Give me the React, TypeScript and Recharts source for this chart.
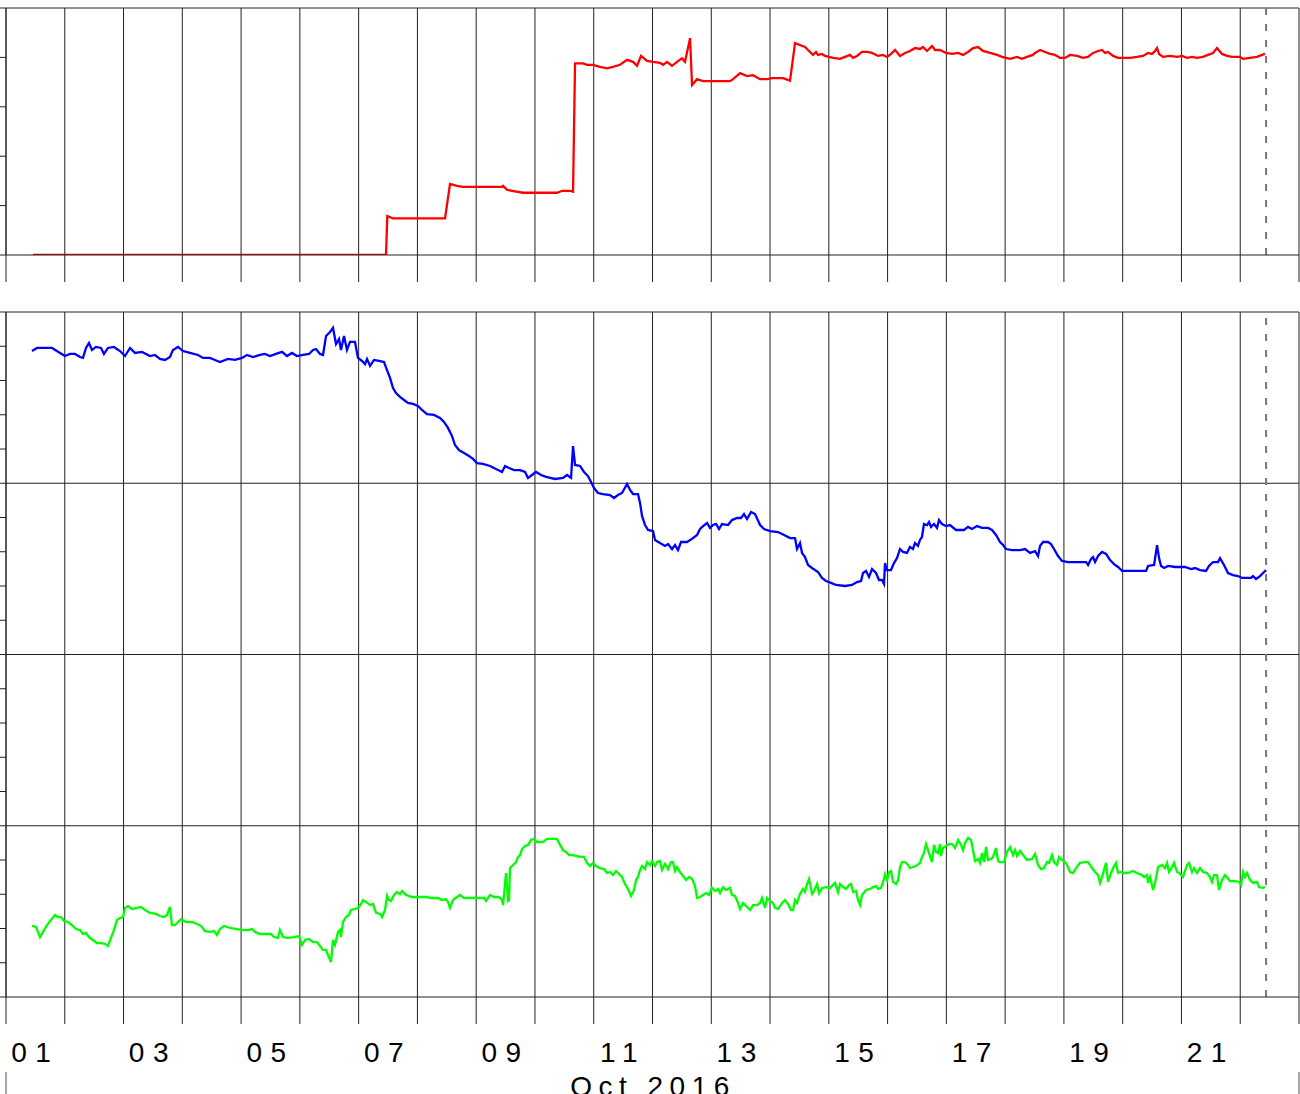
import { LineChart, Line, XAxis, YAxis, CartesianGrid, ReferenceLine } from "recharts";

// time axis: days since 2016-10-01 00:00
const dayTicks = [0, 1, 2, 3, 4, 5, 6, 7, 8, 9, 10, 11, 12, 13, 14, 15, 16, 17, 18, 19, 20, 21, 22];
const dayLabelTicks = [0.5, 2.5, 4.5, 6.5, 8.5, 10.5, 12.5, 14.5, 16.5, 18.5, 20.5];
const dayLabels = ["01", "03", "05", "07", "09", "11", "13", "15", "17", "19", "21"];
const monthTicks = [0, 22];
const monthLabel = "Oct 2016";
const nowMarker = 21.44;

const topTicks = [0, 1, 2, 3, 4, 5];
const bottomTicks = [0, 0.2, 0.4, 0.6, 0.8, 1, 1.2, 1.4, 1.6, 1.8, 2, 2.2, 2.4, 2.6, 2.8, 3, 3.2, 3.4, 3.6, 3.8, 4];
const bottomMajor = [1, 2, 3, 4];

const red: [number, number][] = [
  [0.459, 0], [6.466, 0], [6.488, 0.79], [6.586, 0.74], [7.47, 0.74], [7.555, 1.44], [7.674, 1.4], [7.777, 1.38],
  [8.44, 1.38], [8.457, 1.4], [8.525, 1.32], [8.61, 1.3], [8.797, 1.26], [9.376, 1.26], [9.461, 1.3], [9.597, 1.3],
  [9.648, 1.28], [9.682, 3.88], [9.818, 3.88], [9.886, 3.85], [9.988, 3.85], [10.107, 3.81], [10.226, 3.78],
  [10.328, 3.81], [10.448, 3.85], [10.567, 3.95], [10.669, 3.91], [10.737, 3.83], [10.805, 4.03], [10.907, 3.93],
  [11.009, 3.91], [11.128, 3.89], [11.179, 3.85], [11.247, 3.91], [11.332, 3.83], [11.417, 3.91], [11.502, 3.98],
  [11.553, 3.91], [11.639, 4.39], [11.673, 3.44], [11.758, 3.56], [11.86, 3.52], [12.32, 3.52], [12.371, 3.56],
  [12.49, 3.68], [12.609, 3.62], [12.711, 3.64], [12.83, 3.56], [12.949, 3.56], [13.034, 3.58], [13.221, 3.58],
  [13.34, 3.53], [13.425, 4.29], [13.51, 4.25], [13.595, 4.21], [13.68, 4.11], [13.731, 4.05], [13.782, 4.11],
  [13.816, 4.05], [13.884, 4.07], [13.935, 4.03], [14.004, 4.01], [14.072, 3.99], [14.191, 3.97], [14.276, 4.01],
  [14.361, 4.05], [14.412, 3.99], [14.48, 4.03], [14.565, 4.11], [14.65, 4.11], [14.735, 4.09], [14.837, 4.03],
  [14.922, 4.05], [14.99, 4.01], [15.059, 4.07], [15.127, 4.15], [15.212, 4.03], [15.297, 4.09], [15.382, 4.13],
  [15.467, 4.19], [15.552, 4.17], [15.603, 4.21], [15.671, 4.13], [15.756, 4.23], [15.807, 4.15], [15.892, 4.15],
  [15.995, 4.09], [16.097, 4.07], [16.199, 4.09], [16.284, 4.05], [16.369, 4.11], [16.454, 4.19], [16.539, 4.21],
  [16.624, 4.13], [16.744, 4.09], [16.863, 4.05], [16.948, 4.01], [17.015, 3.99], [17.083, 3.97], [17.202, 4.01],
  [17.287, 3.97], [17.372, 4.01], [17.474, 4.05], [17.509, 4.09], [17.594, 4.15], [17.679, 4.11], [17.764, 4.07],
  [17.849, 4.05], [17.934, 3.99], [18.019, 3.99], [18.104, 4.05], [18.223, 4.03], [18.325, 3.99], [18.41, 4.01],
  [18.496, 4.09], [18.581, 4.13], [18.649, 4.15], [18.7, 4.09], [18.751, 4.11], [18.836, 4.03], [18.921, 3.99],
  [19.006, 3.99], [19.125, 3.99], [19.244, 4.01], [19.346, 4.03], [19.431, 4.09], [19.499, 4.07], [19.55, 4.13],
  [19.585, 4.19], [19.619, 4.07], [19.687, 4.01], [19.806, 4.03], [19.925, 4.01], [20.01, 4.03], [20.095, 3.99],
  [20.18, 4.01], [20.265, 3.99], [20.367, 4.01], [20.452, 4.05], [20.537, 4.09], [20.605, 4.19], [20.69, 4.07],
  [20.775, 4.03], [20.86, 4.01], [20.997, 4.01], [21.048, 3.97], [21.167, 3.99], [21.286, 4.01], [21.371, 4.05],
  [21.422, 4.07],
];

const blue: [number, number][] = [
  [0.442, 3.772], [0.528, 3.79], [0.783, 3.79], [0.919, 3.761], [1.004, 3.743], [1.089, 3.755], [1.174, 3.755],
  [1.259, 3.737], [1.31, 3.732], [1.361, 3.79], [1.412, 3.819], [1.463, 3.778], [1.531, 3.796], [1.616, 3.79],
  [1.667, 3.755], [1.735, 3.79], [1.837, 3.796], [1.94, 3.772], [2.025, 3.743], [2.11, 3.79], [2.195, 3.761],
  [2.314, 3.767], [2.45, 3.743], [2.535, 3.749], [2.62, 3.726], [2.705, 3.72], [2.79, 3.737], [2.841, 3.778],
  [2.927, 3.796], [3.012, 3.772], [3.131, 3.761], [3.267, 3.749], [3.352, 3.732], [3.471, 3.732], [3.556, 3.72],
  [3.641, 3.708], [3.777, 3.726], [3.896, 3.72], [4.015, 3.732], [4.1, 3.749], [4.202, 3.737], [4.321, 3.749],
  [4.406, 3.755], [4.491, 3.743], [4.593, 3.755], [4.696, 3.767], [4.781, 3.743], [4.866, 3.761], [4.951, 3.743],
  [5.054, 3.749], [5.156, 3.755], [5.224, 3.778], [5.275, 3.784], [5.343, 3.755], [5.394, 3.749], [5.445, 3.86],
  [5.513, 3.883], [5.564, 3.907], [5.615, 3.813], [5.666, 3.842], [5.7, 3.778], [5.751, 3.86], [5.802, 3.778],
  [5.853, 3.825], [5.938, 3.825], [5.989, 3.732], [6.058, 3.714], [6.109, 3.696], [6.143, 3.726], [6.194, 3.685],
  [6.262, 3.72], [6.347, 3.714], [6.432, 3.708], [6.483, 3.661], [6.534, 3.615], [6.585, 3.556], [6.636, 3.527],
  [6.704, 3.504], [6.772, 3.486], [6.84, 3.469], [6.925, 3.463], [7.01, 3.451], [7.078, 3.428], [7.163, 3.404],
  [7.282, 3.399], [7.384, 3.381], [7.452, 3.358], [7.52, 3.323], [7.588, 3.276], [7.639, 3.223], [7.707, 3.194],
  [7.793, 3.177], [7.878, 3.159], [7.946, 3.142], [8.014, 3.118], [8.116, 3.113], [8.236, 3.101], [8.338, 3.083],
  [8.44, 3.066], [8.491, 3.101], [8.559, 3.089], [8.644, 3.077], [8.746, 3.077], [8.831, 3.066], [8.882, 3.031],
  [8.95, 3.048], [9.018, 3.066], [9.104, 3.048], [9.189, 3.037], [9.342, 3.025], [9.478, 3.031], [9.546, 3.048],
  [9.614, 3.031], [9.648, 3.217], [9.682, 3.107], [9.767, 3.101], [9.835, 3.066], [9.903, 3.042], [9.954, 3.007],
  [10.005, 2.972], [10.073, 2.943], [10.158, 2.937], [10.277, 2.931], [10.345, 2.914], [10.413, 2.931],
  [10.481, 2.943], [10.567, 2.996], [10.618, 2.961], [10.669, 2.937], [10.754, 2.937], [10.788, 2.885],
  [10.822, 2.809], [10.873, 2.756], [10.924, 2.727], [11.009, 2.721], [11.043, 2.669], [11.128, 2.651],
  [11.213, 2.634], [11.264, 2.645], [11.332, 2.616], [11.383, 2.639], [11.434, 2.61], [11.485, 2.657],
  [11.587, 2.657], [11.672, 2.675], [11.758, 2.698], [11.809, 2.733], [11.86, 2.75], [11.928, 2.768],
  [11.979, 2.739], [12.03, 2.756], [12.081, 2.762], [12.132, 2.733], [12.183, 2.762], [12.285, 2.756],
  [12.353, 2.785], [12.438, 2.797], [12.506, 2.797], [12.557, 2.82], [12.609, 2.791], [12.677, 2.832],
  [12.745, 2.82], [12.83, 2.756], [12.898, 2.733], [13.0, 2.721], [13.136, 2.715], [13.238, 2.698], [13.34, 2.68],
  [13.425, 2.68], [13.459, 2.616], [13.51, 2.651], [13.544, 2.593], [13.595, 2.569], [13.646, 2.523],
  [13.714, 2.505], [13.816, 2.482], [13.884, 2.447], [13.952, 2.429], [14.037, 2.418], [14.123, 2.406],
  [14.276, 2.4], [14.395, 2.406], [14.48, 2.423], [14.548, 2.429], [14.582, 2.476], [14.633, 2.488],
  [14.684, 2.453], [14.735, 2.499], [14.803, 2.476], [14.854, 2.435], [14.905, 2.435], [14.939, 2.412],
  [14.956, 2.534], [14.99, 2.493], [15.058, 2.493], [15.109, 2.534], [15.16, 2.563], [15.211, 2.616],
  [15.262, 2.599], [15.33, 2.593], [15.381, 2.628], [15.432, 2.616], [15.466, 2.651], [15.517, 2.634],
  [15.551, 2.669], [15.585, 2.686], [15.619, 2.762], [15.671, 2.756], [15.705, 2.774], [15.739, 2.745],
  [15.79, 2.762], [15.841, 2.739], [15.875, 2.785], [15.926, 2.762], [15.994, 2.75], [16.062, 2.756],
  [16.164, 2.727], [16.3, 2.727], [16.368, 2.745], [16.436, 2.733], [16.521, 2.75], [16.606, 2.739],
  [16.709, 2.739], [16.777, 2.727], [16.845, 2.698], [16.913, 2.657], [16.964, 2.639], [17.015, 2.616],
  [17.117, 2.61], [17.254, 2.61], [17.339, 2.616], [17.424, 2.593], [17.509, 2.604], [17.56, 2.575],
  [17.594, 2.634], [17.645, 2.657], [17.73, 2.657], [17.781, 2.645], [17.832, 2.616], [17.9, 2.575],
  [17.968, 2.546], [18.071, 2.54], [18.241, 2.54], [18.377, 2.54], [18.411, 2.523], [18.462, 2.558],
  [18.496, 2.569], [18.53, 2.54], [18.581, 2.575], [18.649, 2.599], [18.717, 2.587], [18.785, 2.552],
  [18.853, 2.528], [18.921, 2.511], [18.99, 2.488], [19.126, 2.488], [19.296, 2.488], [19.398, 2.488],
  [19.432, 2.517], [19.534, 2.523], [19.585, 2.639], [19.619, 2.563], [19.653, 2.517], [19.704, 2.505],
  [19.772, 2.517], [19.891, 2.511], [20.061, 2.511], [20.163, 2.499], [20.231, 2.505], [20.316, 2.493],
  [20.418, 2.488], [20.469, 2.517], [20.537, 2.54], [20.622, 2.54], [20.656, 2.563], [20.724, 2.523],
  [20.792, 2.476], [20.877, 2.464], [20.962, 2.458], [21.031, 2.447], [21.116, 2.447], [21.184, 2.447],
  [21.218, 2.458], [21.269, 2.441], [21.337, 2.458], [21.388, 2.476], [21.44, 2.493],
];

const green: [number, number][] = [
  [0.442, 0.415], [0.511, 0.409], [0.579, 0.35], [0.63, 0.38], [0.698, 0.42], [0.766, 0.45], [0.834, 0.479],
  [0.885, 0.467], [0.936, 0.467], [0.987, 0.444], [1.055, 0.438], [1.123, 0.42], [1.191, 0.397], [1.259, 0.391],
  [1.31, 0.368], [1.361, 0.374], [1.412, 0.35], [1.48, 0.333], [1.548, 0.315], [1.616, 0.315], [1.684, 0.31],
  [1.735, 0.298], [1.786, 0.345], [1.837, 0.391], [1.888, 0.45], [1.94, 0.461], [1.991, 0.467], [2.025, 0.52],
  [2.076, 0.531], [2.144, 0.514], [2.229, 0.52], [2.297, 0.526], [2.365, 0.508], [2.45, 0.491], [2.552, 0.485],
  [2.62, 0.473], [2.688, 0.467], [2.739, 0.479], [2.79, 0.526], [2.824, 0.42], [2.875, 0.42], [2.927, 0.438],
  [2.978, 0.455], [3.063, 0.438], [3.165, 0.438], [3.25, 0.426], [3.318, 0.415], [3.386, 0.385], [3.471, 0.38],
  [3.539, 0.385], [3.59, 0.362], [3.641, 0.397], [3.709, 0.415], [3.811, 0.403], [3.93, 0.397], [4.032, 0.391],
  [4.117, 0.391], [4.185, 0.397], [4.236, 0.38], [4.321, 0.368], [4.44, 0.368], [4.508, 0.368], [4.559, 0.35],
  [4.627, 0.345], [4.661, 0.391], [4.712, 0.35], [4.798, 0.345], [4.9, 0.35], [4.985, 0.356], [5.036, 0.304],
  [5.087, 0.333], [5.156, 0.339], [5.224, 0.321], [5.292, 0.321], [5.343, 0.298], [5.394, 0.275], [5.445, 0.275],
  [5.479, 0.245], [5.53, 0.204], [5.564, 0.333], [5.598, 0.304], [5.649, 0.38], [5.683, 0.391], [5.7, 0.35],
  [5.734, 0.438], [5.785, 0.467], [5.836, 0.479], [5.87, 0.508], [5.938, 0.514], [5.989, 0.52], [6.04, 0.543],
  [6.075, 0.566], [6.126, 0.555], [6.194, 0.537], [6.245, 0.543], [6.296, 0.491], [6.364, 0.485], [6.398, 0.467],
  [6.449, 0.508], [6.483, 0.59], [6.517, 0.566], [6.551, 0.561], [6.602, 0.596], [6.653, 0.613], [6.704, 0.601],
  [6.738, 0.619], [6.806, 0.596], [6.908, 0.584], [7.044, 0.584], [7.163, 0.584], [7.214, 0.578], [7.35, 0.578],
  [7.418, 0.566], [7.486, 0.572], [7.52, 0.555], [7.554, 0.52], [7.605, 0.566], [7.673, 0.584], [7.724, 0.596],
  [7.793, 0.578], [7.929, 0.578], [8.065, 0.578], [8.133, 0.578], [8.167, 0.561], [8.201, 0.578], [8.235, 0.596],
  [8.303, 0.584], [8.388, 0.584], [8.44, 0.566], [8.457, 0.537], [8.508, 0.724], [8.542, 0.561], [8.559, 0.566],
  [8.576, 0.753], [8.627, 0.771], [8.678, 0.788], [8.712, 0.818], [8.746, 0.829], [8.78, 0.864], [8.831, 0.882],
  [8.882, 0.888], [8.933, 0.917], [8.984, 0.923], [9.035, 0.905], [9.137, 0.905], [9.206, 0.923], [9.291, 0.923],
  [9.376, 0.923], [9.427, 0.888], [9.478, 0.858], [9.529, 0.847], [9.58, 0.829], [9.648, 0.829], [9.716, 0.823],
  [9.767, 0.818], [9.835, 0.818], [9.886, 0.783], [9.937, 0.765], [9.988, 0.783], [10.039, 0.765], [10.107, 0.753],
  [10.175, 0.747], [10.226, 0.724], [10.277, 0.73], [10.328, 0.712], [10.379, 0.736], [10.43, 0.718],
  [10.481, 0.701], [10.532, 0.66], [10.583, 0.631], [10.634, 0.59], [10.686, 0.625], [10.72, 0.683],
  [10.754, 0.701], [10.788, 0.742], [10.822, 0.765], [10.873, 0.747], [10.907, 0.788], [10.958, 0.771],
  [10.992, 0.794], [11.043, 0.765], [11.077, 0.788], [11.128, 0.794], [11.162, 0.742], [11.213, 0.777],
  [11.264, 0.747], [11.315, 0.788], [11.349, 0.788], [11.383, 0.736], [11.417, 0.759], [11.468, 0.73],
  [11.519, 0.707], [11.571, 0.683], [11.622, 0.701], [11.673, 0.689], [11.724, 0.648], [11.758, 0.578],
  [11.809, 0.584], [11.86, 0.596], [11.911, 0.607], [11.962, 0.596], [12.013, 0.637], [12.064, 0.619],
  [12.115, 0.631], [12.149, 0.607], [12.2, 0.642], [12.251, 0.625], [12.319, 0.637], [12.353, 0.596],
  [12.404, 0.59], [12.456, 0.549], [12.49, 0.514], [12.541, 0.549], [12.592, 0.531], [12.66, 0.508],
  [12.711, 0.537], [12.779, 0.537], [12.83, 0.549], [12.864, 0.578], [12.915, 0.52], [12.949, 0.578],
  [13.0, 0.561], [13.051, 0.549], [13.085, 0.52], [13.136, 0.514], [13.204, 0.549], [13.255, 0.566],
  [13.306, 0.543], [13.357, 0.508], [13.391, 0.508], [13.425, 0.566], [13.459, 0.549], [13.51, 0.601],
  [13.561, 0.631], [13.595, 0.613], [13.63, 0.66], [13.664, 0.689], [13.715, 0.601], [13.749, 0.619],
  [13.8, 0.66], [13.834, 0.607], [13.885, 0.637], [13.953, 0.642], [14.021, 0.637], [14.106, 0.666],
  [14.157, 0.613], [14.191, 0.66], [14.242, 0.642], [14.293, 0.631], [14.345, 0.654], [14.379, 0.66],
  [14.413, 0.613], [14.464, 0.619], [14.498, 0.566], [14.532, 0.537], [14.566, 0.596], [14.634, 0.625],
  [14.702, 0.631], [14.753, 0.642], [14.804, 0.648], [14.838, 0.631], [14.889, 0.637], [14.923, 0.672],
  [14.957, 0.718], [14.991, 0.683], [15.025, 0.73], [15.059, 0.736], [15.093, 0.672], [15.144, 0.66],
  [15.178, 0.683], [15.212, 0.759], [15.246, 0.788], [15.297, 0.788], [15.348, 0.771], [15.382, 0.753],
  [15.433, 0.759], [15.484, 0.765], [15.552, 0.783], [15.586, 0.818], [15.62, 0.841], [15.654, 0.893],
  [15.688, 0.858], [15.722, 0.823], [15.756, 0.788], [15.79, 0.888], [15.824, 0.847], [15.858, 0.841],
  [15.892, 0.893], [15.909, 0.823], [15.943, 0.87], [15.994, 0.882], [16.045, 0.893], [16.097, 0.893],
  [16.148, 0.87], [16.199, 0.917], [16.25, 0.888], [16.284, 0.858], [16.318, 0.899], [16.369, 0.929],
  [16.42, 0.917], [16.454, 0.858], [16.488, 0.794], [16.539, 0.806], [16.573, 0.783], [16.607, 0.841],
  [16.641, 0.788], [16.675, 0.876], [16.709, 0.8], [16.76, 0.806], [16.794, 0.818], [16.845, 0.87],
  [16.879, 0.794], [16.913, 0.788], [16.981, 0.788], [17.032, 0.847], [17.084, 0.876], [17.135, 0.829],
  [17.169, 0.858], [17.203, 0.823], [17.254, 0.853], [17.305, 0.829], [17.373, 0.8], [17.458, 0.806],
  [17.509, 0.835], [17.56, 0.771], [17.611, 0.747], [17.662, 0.753], [17.713, 0.788], [17.747, 0.783],
  [17.798, 0.829], [17.832, 0.788], [17.883, 0.771], [17.917, 0.818], [17.968, 0.8], [18.019, 0.788],
  [18.053, 0.771], [18.104, 0.73], [18.155, 0.724], [18.207, 0.753], [18.275, 0.783], [18.36, 0.788],
  [18.411, 0.788], [18.479, 0.753], [18.53, 0.73], [18.581, 0.712], [18.615, 0.666], [18.649, 0.701],
  [18.683, 0.742], [18.717, 0.783], [18.751, 0.672], [18.802, 0.724], [18.836, 0.753], [18.887, 0.783],
  [18.921, 0.724], [18.973, 0.73], [19.023, 0.724], [19.091, 0.724], [19.176, 0.736], [19.245, 0.724],
  [19.33, 0.712], [19.364, 0.701], [19.415, 0.712], [19.432, 0.666], [19.466, 0.701], [19.517, 0.625],
  [19.551, 0.666], [19.602, 0.759], [19.67, 0.771], [19.721, 0.753], [19.755, 0.783], [19.789, 0.73],
  [19.84, 0.759], [19.874, 0.783], [19.925, 0.73], [19.959, 0.724], [20.027, 0.701], [20.095, 0.771],
  [20.129, 0.783], [20.18, 0.73], [20.214, 0.753], [20.265, 0.724], [20.316, 0.753], [20.367, 0.73],
  [20.435, 0.724], [20.486, 0.701], [20.52, 0.672], [20.554, 0.712], [20.605, 0.712], [20.639, 0.625],
  [20.69, 0.683], [20.741, 0.712], [20.775, 0.701], [20.826, 0.677], [20.911, 0.677], [20.98, 0.672],
  [21.014, 0.654], [21.048, 0.73], [21.082, 0.701], [21.116, 0.724], [21.167, 0.683], [21.218, 0.666],
  [21.286, 0.672], [21.32, 0.642], [21.371, 0.637], [21.422, 0.642],
];

const toRows = (pts: [number, number][]) => pts.map(([t, v]) => ({ t, v }));

const GRID = "#222";
const FONT = "'Liberation Sans', Arial, sans-serif";

// draws no label, so only the tick line is left
const NoLabel = () => <g />;

function DayLabel(props: any) {
  const { x, y, payload } = props;
  const i = dayLabelTicks.indexOf(payload.value);
  return (
    <text x={x} y={y + 38} textAnchor="middle" fontSize={28} fontFamily={FONT} letterSpacing={8.5} fill="#000">
      {dayLabels[i]}
    </text>
  );
}

export default function App() {
  return (
    <div style={{ position: "absolute", left: 0, top: 0, width: 1300, height: 1094, overflow: "hidden", background: "#fff" }}>
      <div style={{ position: "absolute", left: 0, top: 0 }}>
        <LineChart width={1300} height={282} margin={{ top: 8, right: 1, left: 0, bottom: 0 }}>
          <CartesianGrid horizontal={false} stroke={GRID} />
          <XAxis type="number" dataKey="t" domain={[0, 22]} ticks={dayTicks} allowDataOverflow
            height={27} tickSize={27} tick={<NoLabel />} stroke={GRID} />
          <YAxis type="number" domain={[0, 5]} ticks={topTicks} allowDataOverflow width={6} tickSize={6} tick={<NoLabel />} stroke={GRID} />
          <ReferenceLine y={5} stroke={GRID} />
          <ReferenceLine x={nowMarker} stroke="#777" strokeWidth={2} strokeDasharray="7 9" />
          <Line data={toRows(red)} dataKey="v" type="linear" stroke="#ff0000" strokeWidth={2.3} dot={false} activeDot={false} isAnimationActive={false} />
        </LineChart>
      </div>
      <div style={{ position: "absolute", left: 0, top: 300 }}>
        <LineChart width={1300} height={794} margin={{ top: 12, right: 1, left: 0, bottom: 0 }}>
          <CartesianGrid horizontal={false} stroke={GRID} />
          <XAxis type="number" dataKey="t" domain={[0, 22]} ticks={dayTicks} allowDataOverflow
            height={27} tickSize={27} tick={<NoLabel />} stroke={GRID} />
          <XAxis xAxisId="labels" type="number" dataKey="t" domain={[0, 22]} ticks={dayLabelTicks} allowDataOverflow
            height={48} tickSize={0} tickMargin={0} axisLine={false} tickLine={false} tick={<DayLabel />} />
          <XAxis xAxisId="month" type="number" dataKey="t" domain={[0, 22]} ticks={monthTicks} allowDataOverflow
            height={22} tickSize={22} axisLine={false} tick={<NoLabel />} tickLine={{ stroke: "#888", strokeWidth: 1.5 }} />
          <YAxis type="number" domain={[0, 4]} ticks={bottomTicks} allowDataOverflow width={6} tickSize={6} tick={<NoLabel />} stroke={GRID} />
          {bottomMajor.map((v) => (
            <ReferenceLine key={v} y={v} stroke={GRID} />
          ))}
          <ReferenceLine x={nowMarker} stroke="#777" strokeWidth={2} strokeDasharray="7 9" />
          <Line data={toRows(blue)} dataKey="v" type="linear" stroke="#0000ff" strokeWidth={2.3} dot={false} activeDot={false} isAnimationActive={false} />
          <Line data={toRows(green)} dataKey="v" type="linear" stroke="#00ff00" strokeWidth={2.3} dot={false} activeDot={false} isAnimationActive={false} />
        </LineChart>
      </div>
      <div style={{ position: "absolute", left: 3, top: 1073, width: 1300, textAlign: "center", fontFamily: FONT,
        fontSize: 28, lineHeight: "28px", letterSpacing: 6.5, color: "#000", whiteSpace: "pre" }}>
        {monthLabel}
      </div>
    </div>
  );
}
